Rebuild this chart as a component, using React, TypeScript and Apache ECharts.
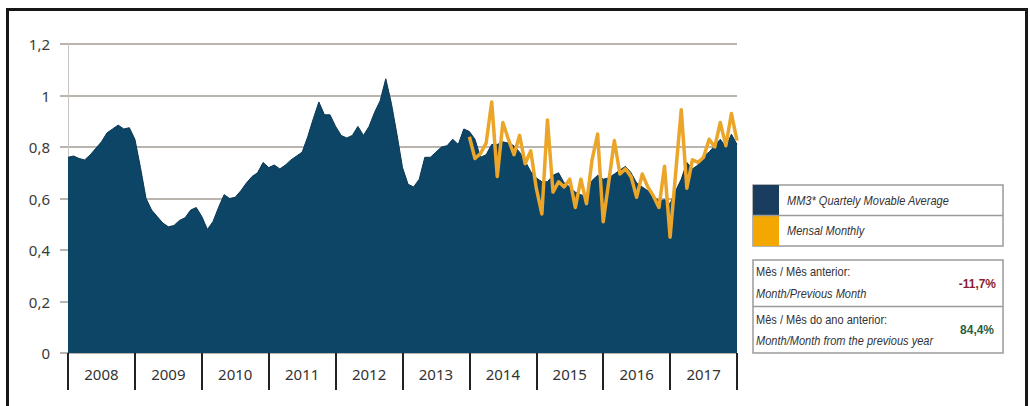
import { useEffect, useRef } from "react";
import * as echarts from "echarts";

const years = ["2008", "2009", "2010", "2011", "2012", "2013", "2014", "2015", "2016", "2017"];
const yTicks = [0, 0.2, 0.4, 0.6, 0.8, 1, 1.2];

// MM3 quarterly moving average, monthly points Jan 2008 .. Jan 2018 (121)
const mm3Values = [
  0.76, 0.765, 0.755, 0.75, 0.77, 0.795, 0.82, 0.855, 0.87, 0.885, 0.87, 0.875,
  0.83, 0.72, 0.6, 0.555, 0.53, 0.505, 0.49, 0.495, 0.515, 0.525, 0.555, 0.565,
  0.53, 0.48, 0.51, 0.565, 0.615, 0.6, 0.605, 0.63, 0.66, 0.685, 0.7, 0.74,
  0.72, 0.73, 0.715, 0.73, 0.75, 0.765, 0.78, 0.84, 0.91, 0.975, 0.925, 0.925,
  0.88, 0.845, 0.835, 0.845, 0.88, 0.845, 0.88, 0.935, 0.98, 1.065, 0.97, 0.85,
  0.72, 0.655, 0.645, 0.675, 0.76, 0.76, 0.78, 0.8, 0.805, 0.83, 0.81, 0.87,
  0.86, 0.83, 0.76, 0.77, 0.81, 0.81, 0.82, 0.815, 0.805, 0.78, 0.745, 0.705,
  0.68, 0.665, 0.665, 0.69, 0.7, 0.66, 0.645, 0.625, 0.615, 0.605, 0.67, 0.69,
  0.675, 0.68, 0.695, 0.71, 0.725, 0.7, 0.66, 0.645, 0.63, 0.61, 0.59, 0.595,
  0.58, 0.63, 0.675, 0.74, 0.715, 0.73, 0.765, 0.78, 0.805, 0.83, 0.8, 0.85,
  0.81,
];

// Monthly values, Jan 2014 .. Jan 2018 (49)
const monthlyStart = 72;
const monthlyValues = [
  0.84, 0.755, 0.775, 0.815, 0.975, 0.685, 0.895, 0.83, 0.77, 0.845, 0.735, 0.785,
  0.64, 0.54, 0.905, 0.625, 0.665, 0.645, 0.675, 0.565, 0.675, 0.58, 0.75, 0.85,
  0.51, 0.665, 0.825, 0.695, 0.715, 0.685, 0.605, 0.695, 0.645, 0.61, 0.565, 0.725,
  0.45, 0.7, 0.945, 0.64, 0.75, 0.74, 0.76, 0.83, 0.8, 0.895, 0.805, 0.93,
  0.825,
];

const legendItems = ["MM3* Quartely Movable Average", "Mensal Monthly"];
const statLabelsPt = ["Mês / Mês anterior:", "Mês / Mês do ano anterior:"];
const statLabelsEn = ["Month/Previous Month", "Month/Month from the previous year"];
const statValues = ["-11,7%", "84,4%"];

const monthLabels: string[] = [];
years.forEach((y) => {
  for (let m = 1; m <= 12; m++) monthLabels.push(`${y}-${m}`);
});
monthLabels.push("2018-1");

const navy = "#0c4566";
const orange = "#eba528";
const gridColor = "#a39b94";
const narrow = "'Liberation Sans Narrow', 'Liberation Sans', sans-serif";
const sx = 0.92;

export default function App() {
  const ref = useRef<HTMLDivElement>(null);
  useEffect(() => {
    const chart = echarts.init(ref.current!, null, { renderer: "svg" });
    const monthlyData = monthLabels.map((_, i) =>
      i >= monthlyStart && i - monthlyStart < monthlyValues.length ? monthlyValues[i - monthlyStart] : null
    );
    chart.setOption({
      animation: false,
      backgroundColor: "#fff",
      grid: { left: 68, right: 293, top: 44, bottom: 53 },
      xAxis: [
        { type: "category", data: monthLabels, boundaryGap: false, show: false },
        {
          type: "category",
          data: years,
          boundaryGap: true,
          position: "bottom",
          axisLine: { show: false },
          axisTick: { show: true, length: 37, lineStyle: { color: "#222", width: 2 } },
          axisLabel: {
            margin: 13,
            fontSize: 15,
            color: "#333",
            fontFamily: "'Noto Sans', sans-serif",
          },
        },
      ],
      yAxis: {
        type: "value",
        min: yTicks[0],
        max: yTicks[yTicks.length - 1],
        interval: 0.2,
        axisLine: { show: true, lineStyle: { color: "#c9c4bf", width: 1 } },
        axisTick: { show: true, length: 8, lineStyle: { color: gridColor, width: 1.5 } },
        splitLine: { show: true, lineStyle: { color: gridColor, width: 1.5 } },
        axisLabel: {
          margin: 18,
          fontSize: 15,
          color: "#3a3a3a",
          fontFamily: "'Noto Sans', sans-serif",
          formatter: (v: number) => parseFloat(v.toFixed(1)).toString().replace(".", ","),
        },
      },
      series: [
        {
          type: "line",
          name: legendItems[0],
          xAxisIndex: 0,
          data: mm3Values,
          symbol: "none",
          lineStyle: { color: "#0a3552", width: 1 },
          areaStyle: { color: navy, opacity: 1 },
          z: 2,
        },
        {
          type: "line",
          name: legendItems[1],
          xAxisIndex: 0,
          data: monthlyData,
          symbol: "none",
          connectNulls: false,
          lineStyle: { color: orange, width: 3.5, join: "round" },
          z: 3,
        },
      ],
      graphic: [
        { type: "rect", shape: { x: 753, y: 185, width: 250, height: 61 }, style: { fill: "#fff", stroke: "#9a9a9a", lineWidth: 1.5 } },
        { type: "rect", shape: { x: 753, y: 185, width: 26, height: 30.5 }, style: { fill: "#183d5e" } },
        { type: "rect", shape: { x: 753, y: 215.5, width: 26, height: 30.5 }, style: { fill: "#f2a800" } },
        { type: "line", shape: { x1: 753, y1: 215.5, x2: 1003, y2: 215.5 }, style: { stroke: "#9a9a9a", lineWidth: 1.5 } },
        { type: "text", x: 787, y: 201, scaleX: sx, style: { text: legendItems[0], font: `italic 12px ${narrow}`, fill: "#333", verticalAlign: "middle" } },
        { type: "text", x: 787, y: 231, scaleX: sx, style: { text: legendItems[1], font: `italic 12px ${narrow}`, fill: "#333", verticalAlign: "middle" } },

        { type: "rect", shape: { x: 753, y: 260, width: 250, height: 93 }, style: { fill: "#fff", stroke: "#9a9a9a", lineWidth: 1.5 } },
        { type: "line", shape: { x1: 753, y1: 306.5, x2: 1003, y2: 306.5 }, style: { stroke: "#9a9a9a", lineWidth: 1.5 } },
        { type: "text", x: 756, y: 272, scaleX: sx, style: { text: statLabelsPt[0], font: `12px ${narrow}`, fill: "#333", verticalAlign: "middle" } },
        { type: "text", x: 756, y: 294, scaleX: sx, style: { text: statLabelsEn[0], font: `italic 12px ${narrow}`, fill: "#333", verticalAlign: "middle" } },
        { type: "text", x: 996, y: 284, scaleX: sx, style: { text: statValues[0], font: `bold 13px ${narrow}`, fill: "#8a1f2e", align: "right", verticalAlign: "middle" } },
        { type: "text", x: 756, y: 320, scaleX: sx, style: { text: statLabelsPt[1], font: `12px ${narrow}`, fill: "#333", verticalAlign: "middle" } },
        { type: "text", x: 756, y: 341, scaleX: sx, style: { text: statLabelsEn[1], font: `italic 12px ${narrow}`, fill: "#333", verticalAlign: "middle" } },
        { type: "text", x: 994, y: 330, scaleX: sx, style: { text: statValues[1], font: `bold 13px ${narrow}`, fill: "#2b5e3e", align: "right", verticalAlign: "middle" } },
      ],
    });
    return () => chart.dispose();
  }, []);
  return (
    <div style={{ position: "fixed", left: 0, top: 0, width: 1030, height: 406, overflow: "hidden", background: "#fff" }}>
      <div ref={ref} style={{ position: "absolute", left: 0, top: 0, width: 1030, height: 406 }} />
      <div
        style={{
          position: "absolute",
          left: 6,
          top: 8,
          width: 1016,
          height: 440,
          border: "3px solid #161616",
          pointerEvents: "none",
        }}
      />
    </div>
  );
}
